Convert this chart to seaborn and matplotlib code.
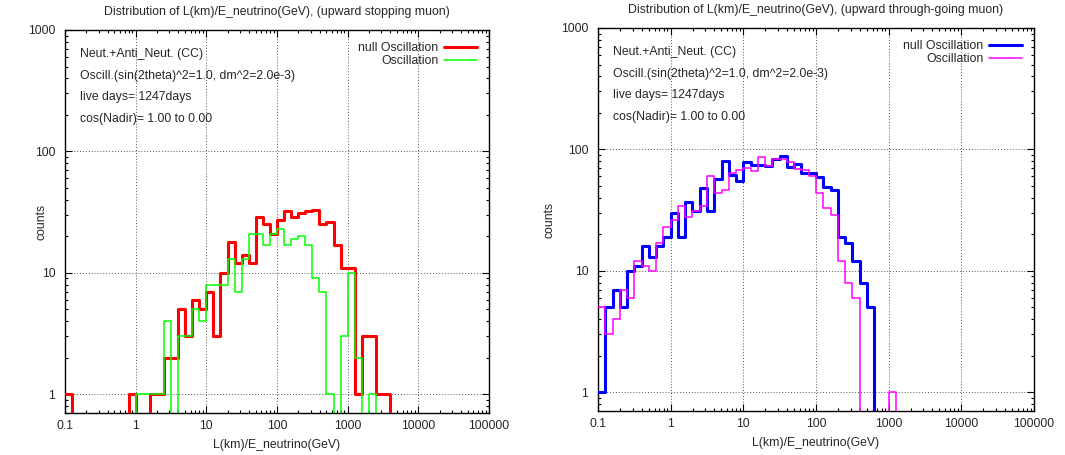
import numpy as np
import pandas as pd
import matplotlib
matplotlib.use('Agg')
import matplotlib.pyplot as plt
import matplotlib.ticker as mticker
import seaborn as sns

# ## data: counts per log10 bin, 10 bins per decade from 0.1 up to 10000
bin_lo, bin_hi, n_bins = -1.0, 4.0, 50
bin_centers = 10 ** (bin_lo + 0.1 * (np.arange(n_bins) + 0.5))

stop_null = [1, 0, 0, 0, 0, 0, 0, 0, 0, 1,
             0, 0, 1, 1, 2, 2, 5, 3, 6, 5,
             7, 3, 10, 18, 12, 14, 12, 29, 25, 21,
             27, 32, 29, 31, 32, 33, 25, 26, 17, 11,
             11, 1, 3, 3, 1, 1, 0, 0, 0, 0]
stop_osc = [0, 0, 0, 0, 0, 0, 0, 0, 0, 0,
            1, 1, 1, 1, 4, 0, 3, 3, 5, 4,
            8, 8, 8, 13, 7, 13, 21, 21, 17, 21,
            23, 17, 19, 20, 17, 9, 7, 1, 0, 3,
            10, 2, 0, 1, 0, 0, 0, 0, 0, 0]
thru_null = [1, 5, 7, 5, 10, 11, 16, 13, 16, 19,
             30, 19, 37, 31, 48, 31, 57, 80, 62, 55,
             78, 74, 75, 73, 83, 89, 72, 76, 64, 64,
             59, 49, 46, 19, 17, 12, 8, 5, 0, 0,
             0, 0, 0, 0, 0, 0, 0, 0, 0, 0]
thru_osc = [5, 3, 4, 7, 6, 12, 11, 10, 17, 23,
            26, 34, 28, 31, 34, 60, 44, 46, 64, 68,
            70, 66, 87, 73, 83, 84, 78, 69, 68, 60,
            44, 33, 29, 12, 8, 6, 0, 0, 0, 0,
            1, 0, 0, 0, 0, 0, 0, 0, 0, 0]

x_ticks = [0.1, 1, 10, 100, 1000, 10000, 100000]
y_ticks = [1, 10, 100, 1000]
info_lines = ['Neut.+Anti_Neut. (CC)',
              'Oscill.(sin(2theta)^2=1.0, dm^2=2.0e-3)',
              'live days= 1247days',
              'cos(Nadir)= 1.00 to 0.00']

# title, null counts, osc counts, colours, axes rect, ylabel x
panels = [
    ('Distribution of L(km)/E_neutrino(GeV), (upward stopping muon)',
     stop_null, stop_osc, '#ff0000', '#00ff00',
     [65 / 1065, 42 / 455, 424 / 1065, 383 / 455], -0.041),
    ('Distribution of L(km)/E_neutrino(GeV), (upward through-going muon)',
     thru_null, thru_osc, '#0000ff', '#ff00ff',
     [598 / 1065, 44 / 455, 436 / 1065, 383 / 455], -0.097),
]

sns.set_style('ticks')
plt.rcParams['font.family'] = ['Liberation Sans', 'DejaVu Sans']
fs = 8.8

fig = plt.figure(figsize=(10.65, 4.55), dpi=100)

for title, null_c, osc_c, c_null, c_osc, pos, ylab_x in panels:
    ax = fig.add_axes(pos)
    df = pd.DataFrame({'x': np.concatenate([bin_centers, bin_centers]),
                       'w': null_c + osc_c,
                       'kind': ['null Oscillation'] * n_bins + ['Oscillation'] * n_bins})
    sns.histplot(data=df[df.kind == 'null Oscillation'], x='x', weights='w',
                 bins=n_bins, binrange=(bin_lo, bin_hi), log_scale=(True, False),
                 element='step', fill=False, color=c_null, linewidth=2.2,
                 label='null Oscillation', ax=ax, zorder=3)
    sns.histplot(data=df[df.kind == 'Oscillation'], x='x', weights='w',
                 bins=n_bins, binrange=(bin_lo, bin_hi), log_scale=(True, False),
                 element='step', fill=False, color=c_osc, linewidth=1.1,
                 label='Oscillation', ax=ax, zorder=4)
    ax.set_yscale('log')
    ax.set_xlim(0.1, 100000)
    ax.set_ylim(0.7, 1000)

    ax.xaxis.set_major_locator(mticker.FixedLocator(x_ticks))
    ax.xaxis.set_major_formatter(mticker.FixedFormatter([f'{t:g}' for t in x_ticks]))
    ax.xaxis.set_minor_locator(mticker.LogLocator(base=10, subs=np.arange(2, 10)))
    ax.xaxis.set_minor_formatter(mticker.NullFormatter())
    ax.yaxis.set_major_locator(mticker.FixedLocator(y_ticks))
    ax.yaxis.set_major_formatter(mticker.FixedFormatter([str(t) for t in y_ticks]))
    ax.yaxis.set_minor_locator(mticker.LogLocator(base=10, subs=np.arange(2, 10)))
    ax.yaxis.set_minor_formatter(mticker.NullFormatter())

    ax.tick_params(which='both', direction='in', top=True, right=True,
                   color='black', width=0.8, labelsize=fs)
    ax.tick_params(axis='x', which='both', pad=5)
    ax.tick_params(axis='y', which='both', pad=7)
    ax.tick_params(which='major', length=5)
    ax.tick_params(which='minor', length=2.5)
    ax.grid(True, which='major', linestyle=(0, (1, 2)), color='#555555', linewidth=0.7)
    for s in ax.spines.values():
        s.set_linewidth(1.0)
        s.set_color('black')

    ax.set_title(title, fontsize=fs, pad=11)
    ax.set_xlabel('L(km)/E_neutrino(GeV)', fontsize=fs, labelpad=5)
    ax.set_ylabel('counts', fontsize=fs)
    ax.yaxis.set_label_coords(ylab_x, 0.5)

    for i, line in enumerate(info_lines):
        ax.text(0.035, 0.937 - 0.0565 * i, line, transform=ax.transAxes,
                fontsize=fs, va='center', ha='left')

    ax.legend(loc='upper right', frameon=False, markerfirst=False,
              handlelength=2.7, handletextpad=0.45, labelspacing=0.1,
              borderaxespad=0.6, fontsize=fs)

fig.savefig('out.png', dpi=100)
